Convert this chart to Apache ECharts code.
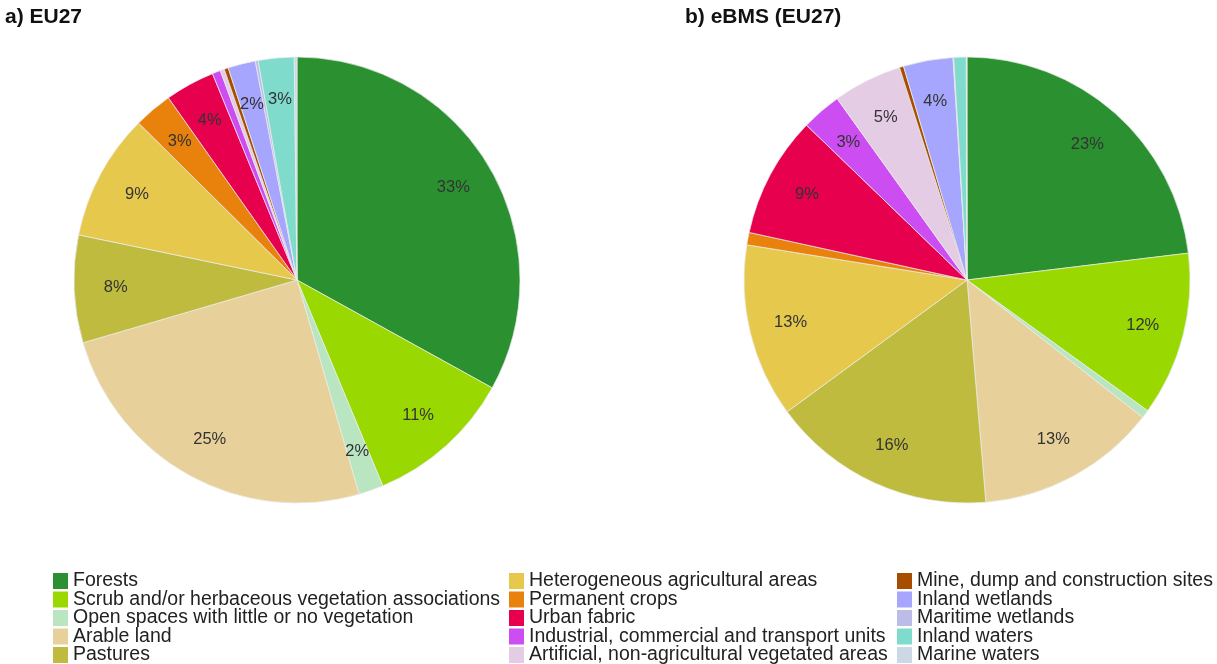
<!DOCTYPE html>
<html>
<head>
<meta charset="utf-8">
<title>Land cover EU27 / eBMS</title>
<script src="https://cdn.jsdelivr.net/npm/echarts@6/dist/echarts.min.js"></script>
<style>
    html, body { margin: 0; padding: 0; background: #fff; }
    #main { width: 1217px; height: 664px; }
</style>
</head>
<body>
<div id="main"></div>
<script>
// land cover classes (legend order)
var categories = [
    'Forests',
    'Scrub and/or herbaceous vegetation associations',
    'Open spaces with little or no vegetation',
    'Arable land',
    'Pastures',
    'Heterogeneous agricultural areas',
    'Permanent crops',
    'Urban fabric',
    'Industrial, commercial and transport units',
    'Artificial, non-agricultural vegetated areas',
    'Mine, dump and construction sites',
    'Inland wetlands',
    'Maritime wetlands',
    'Inland waters',
    'Marine waters'
];

// share of area (%)
var eu27Share = [33.1, 10.7, 1.8, 25.0, 7.8, 9.2, 2.8, 3.6, 0.6, 0.3, 0.3, 2.0, 0.2, 2.6, 0.2];
var ebmsShare = [23.1, 11.9, 0.6, 13.1, 16.3, 12.6, 0.9, 8.8, 2.9, 5.0, 0.3, 3.6, 0.05, 0.9, 0.05];

var classColors = [
    '#2b9130', '#99d800', '#b9e5c0', '#e8d09b', '#bfbb3f',
    '#e6c84c', '#e8820c', '#e6004d', '#cc4df2', '#e4cce4',
    '#a64d00', '#a6a6ff', '#bcbce8', '#7fdccc', '#ccd8e6'
];

var toPieData = function(values){
    var out = [];
    values.forEach(function(v, i){
        out.push({name: categories[i], value: v});
    });
    return out;
};

var pctLabel = function(p){
    // only the larger slices carry a label
    return p.percent >= 1.5 ? Math.round(p.percent) + '%' : '';
};

var pieSeries = function(values, center){
    return {
        type: 'pie',
        center: center,
        radius: 223,
        startAngle: 90,
        clockwise: true,
        data: toPieData(values),
        label: {show: false},
        labelLine: {show: false},
        emphasis: {disabled: true},
        itemStyle: {
            borderColor: 'rgba(235,235,235,0.9)',
            borderWidth: 0.8
        }
    };
};

// transparent ring only used to put the % labels at ~0.8 of the radius
var labelSeries = function(values, center){
    return {
        type: 'pie',
        center: center,
        radius: [134, 223],
        startAngle: 90,
        silent: true,
        avoidLabelOverlap: false,
        data: toPieData(values),
        itemStyle: {color: 'transparent', borderWidth: 0},
        label: {
            show: true,
            position: 'inside',
            formatter: pctLabel,
            color: '#333',
            fontSize: 16.5,
            fontFamily: 'Liberation Sans, Arial, sans-serif'
        },
        labelLine: {show: false},
        emphasis: {disabled: true}
    };
};

var legendCol = function(left, names){
    return {
        orient: 'vertical',
        left: left,
        top: 571,
        height: 200,
        itemWidth: 15,
        itemHeight: 16,
        itemGap: -1.5,
        icon: 'rect',
        selectedMode: false,
        padding: 0,
        data: names,
        itemStyle: {borderWidth: 0},
        textStyle: {
            fontSize: 19.5,
            lineHeight: 17,
            color: '#222',
            fontFamily: 'Liberation Sans, Arial, sans-serif'
        }
    };
};

var box = document.getElementById('main');
var myCharts = echarts.init(box, null, {renderer: 'canvas'});
var option = {
    animation: false,
    color: classColors,
    title: [
        {
            text: 'a) EU27',
            left: 0, top: 2,
            textStyle: {fontSize: 21, fontWeight: 'bold', color: '#111', fontFamily: 'Liberation Sans, Arial, sans-serif'}
        },
        {
            text: 'b) eBMS (EU27)',
            left: 680, top: 2,
            textStyle: {fontSize: 21, fontWeight: 'bold', color: '#111', fontFamily: 'Liberation Sans, Arial, sans-serif'}
        }
    ],
    legend: [
        legendCol(53, categories.slice(0, 5)),
        legendCol(509, categories.slice(5, 10)),
        legendCol(897, categories.slice(10, 15))
    ],
    series: [
        pieSeries(eu27Share, [297, 280]),
        pieSeries(ebmsShare, [967, 280]),
        labelSeries(eu27Share, [297, 280]),
        labelSeries(ebmsShare, [967, 280])
    ]
};
myCharts.setOption(option);
</script>
</body>
</html>
